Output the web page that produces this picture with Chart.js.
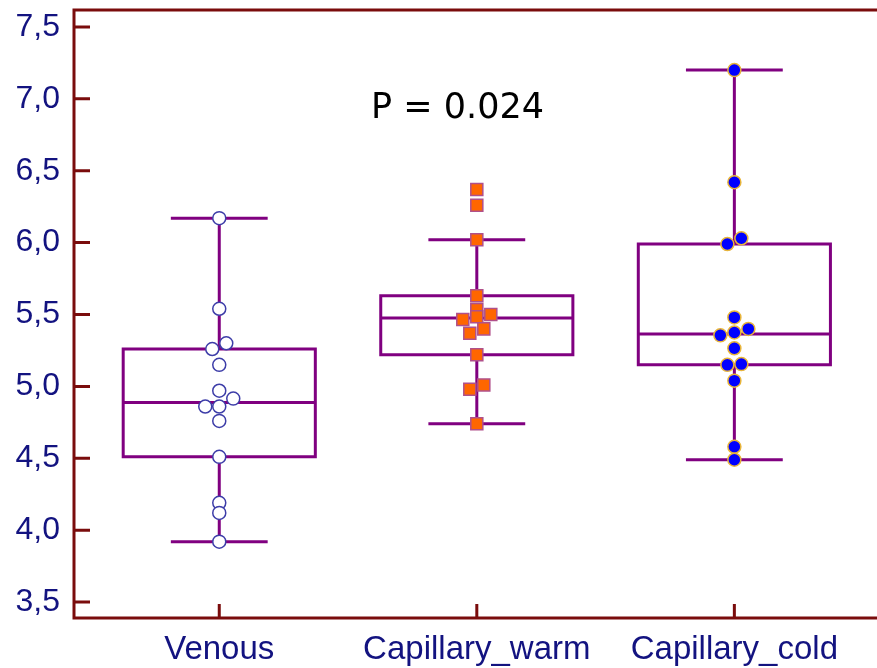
<!DOCTYPE html>
<html>
<head>
<meta charset="utf-8">
<script src="https://cdn.jsdelivr.net/npm/chart.js@4.4.1/dist/chart.umd.min.js"></script>
<style>
  html, body { margin: 0; padding: 0; background: #ffffff; overflow: hidden; }
  canvas { display: block; }
</style>
</head>
<body>
<canvas id="grafico-box" width="877" height="668"></canvas>
<script>
const categorias = ['Venous', 'Capillary_warm', 'Capillary_cold'];
const yTicks = [3.5, 4.0, 4.5, 5.0, 5.5, 6.0, 6.5, 7.0, 7.5];

const venous = [6.17, 5.54, 5.30, 5.26, 5.15, 4.97, 4.915, 4.86, 4.86, 4.76, 4.51, 4.19, 4.12, 3.92];
const capillaryWarm = [6.37, 6.26, 6.02, 5.63, 5.535, 5.50, 5.485, 5.465, 5.40, 5.37, 5.22, 5.01, 4.98, 4.74];
const capillaryCold = [7.20, 6.42, 6.03, 5.99, 5.48, 5.40, 5.375, 5.355, 5.265, 5.155, 5.15, 5.04, 4.58, 4.49];

const pTexto = 'P = 0.024';

const corEixo = '#7a0c0c';
const corTexto = '#131380';
const corBox = '#800080';

// Tukey hinges, whiskers to the furthest values inside 1.5 IQR
function mediana(arr) {
    const n = arr.length;
    return n % 2 ? arr[(n - 1) / 2] : (arr[n / 2 - 1] + arr[n / 2]) / 2;
}

function estatisticas(valores) {
    const s = [...valores].sort((a, b) => a - b);
    const n = s.length;
    const metade = Math.ceil(n / 2);
    const q1 = mediana(s.slice(0, metade));
    const q3 = mediana(s.slice(n - metade));
    const iqr = q3 - q1;
    const dentro = s.filter(v => v >= q1 - 1.5 * iqr && v <= q3 + 1.5 * iqr);
    return { min: dentro[0], q1: q1, med: mediana(s), q3: q3, max: dentro[dentro.length - 1] };
}

const grupos = [venous, capillaryWarm, capillaryCold];
const stats = grupos.map(estatisticas);

// points with nearly equal values are spread in a centred row
function posicoesX(valores, centro, chart) {
    const y = chart.scales.y;
    const x = chart.scales.x;
    const pxPorUnidade = x.getPixelForValue(1) - x.getPixelForValue(0);
    const passo = 14 / pxPorUnidade;
    const ordem = valores.map((v, i) => i).sort((a, b) => valores[a] - valores[b]);
    const xs = new Array(valores.length);
    let grupo = [];
    const fecha = () => {
        grupo.forEach((i, k) => { xs[i] = centro + (k - (grupo.length - 1) / 2) * passo; });
        grupo = [];
    };
    ordem.forEach(i => {
        if (grupo.length && Math.abs(y.getPixelForValue(valores[i]) - y.getPixelForValue(valores[grupo[0]])) >= 9) {
            fecha();
        }
        grupo.push(i);
    });
    fecha();
    return xs;
}

const desenhoBox = {
    id: 'desenhoBox',
    beforeDatasetsDraw(chart) {
        const { ctx, scales: { x, y } } = chart;
        const meiaLarg = 0.373;
        const meiaCap = 0.188;
        ctx.save();
        ctx.strokeStyle = corBox;
        ctx.lineWidth = 3;
        ctx.lineCap = 'butt';
        stats.forEach((s, i) => {
            const c = i + 1;
            const xl = x.getPixelForValue(c - meiaLarg);
            const xr = x.getPixelForValue(c + meiaLarg);
            const xc = x.getPixelForValue(c);
            const cl = x.getPixelForValue(c - meiaCap);
            const cr = x.getPixelForValue(c + meiaCap);
            const yq1 = y.getPixelForValue(s.q1);
            const yq3 = y.getPixelForValue(s.q3);
            const ymed = y.getPixelForValue(s.med);
            const ymin = y.getPixelForValue(s.min);
            const ymax = y.getPixelForValue(s.max);
            ctx.beginPath();
            ctx.rect(xl, yq3, xr - xl, yq1 - yq3);
            ctx.moveTo(xl, ymed); ctx.lineTo(xr, ymed);
            ctx.moveTo(xc, yq3); ctx.lineTo(xc, ymax);
            ctx.moveTo(xc, yq1); ctx.lineTo(xc, ymin);
            ctx.moveTo(cl, ymax); ctx.lineTo(cr, ymax);
            ctx.moveTo(cl, ymin); ctx.lineTo(cr, ymin);
            ctx.stroke();
        });
        ctx.restore();
    },
    afterDraw(chart) {
        const { ctx, chartArea: a, scales: { x, y } } = chart;
        ctx.save();
        ctx.strokeStyle = corEixo;
        ctx.lineWidth = 3;
        ctx.beginPath();
        ctx.moveTo(chart.width, a.top); ctx.lineTo(a.left, a.top);
        ctx.lineTo(a.left, a.bottom); ctx.lineTo(chart.width, a.bottom);
        yTicks.forEach(v => {
            const py = y.getPixelForValue(v);
            ctx.moveTo(a.left, py); ctx.lineTo(a.left + 16, py);
        });
        categorias.forEach((c, i) => {
            const px = x.getPixelForValue(i + 1);
            ctx.moveTo(px, a.bottom); ctx.lineTo(px, a.bottom - 14);
        });
        ctx.stroke();

        ctx.fillStyle = '#000000';
        ctx.font = '35px "DejaVu Sans"';
        ctx.textAlign = 'center';
        ctx.textBaseline = 'middle';
        ctx.fillText(pTexto, x.getPixelForValue(1.925), y.getPixelForValue(6.93));
        ctx.restore();
    }
};

const ctx = document.getElementById('grafico-box');

const graficoBox = new Chart(ctx, {
    type: 'scatter',
    data: {
        datasets: [
            {
                label: categorias[0],
                data: venous.map(v => ({ x: 1, y: v })),
                pointStyle: 'circle',
                pointRadius: 6.5,
                pointBackgroundColor: '#ffffff',
                pointBorderColor: '#3d3da8',
                pointBorderWidth: 1.5
            },
            {
                label: categorias[1],
                data: capillaryWarm.map(v => ({ x: 2, y: v })),
                pointStyle: 'rect',
                pointRadius: 8.5,
                pointBackgroundColor: '#ff6600',
                pointBorderColor: '#b0508a',
                pointBorderWidth: 1.5
            },
            {
                label: categorias[2],
                data: capillaryCold.map(v => ({ x: 3, y: v })),
                pointStyle: 'circle',
                pointRadius: 6.5,
                pointBackgroundColor: '#0000ff',
                pointBorderColor: '#e8b53a',
                pointBorderWidth: 1.5
            }
        ]
    },
    options: {
        responsive: false,
        maintainAspectRatio: false,
        animation: false,
        devicePixelRatio: 1,
        layout: { padding: { top: 8, right: 0, left: 0, bottom: 0 } },
        plugins: {
            legend: { display: false },
            tooltip: { enabled: false }
        },
        scales: {
            x: {
                type: 'linear',
                min: 0.436,
                max: 3.515,
                afterBuildTicks: s => { s.ticks = categorias.map((c, i) => ({ value: i + 1 })); },
                afterFit: s => {
                    s.height = 50;
                    s.paddingLeft = 0;
                    s.paddingRight = 0;
                    s.paddingTop = 0;
                    s.paddingBottom = 0;
                },
                grid: { display: false, drawTicks: false },
                border: { display: false },
                ticks: {
                    padding: 12,
                    color: corTexto,
                    font: { family: '"Liberation Sans", Arial', size: 33 },
                    callback: v => categorias[v - 1]
                }
            },
            y: {
                type: 'linear',
                min: 3.389,
                max: 7.618,
                afterBuildTicks: s => { s.ticks = yTicks.map(v => ({ value: v })); },
                afterFit: s => {
                    s.width = 74;
                    s.paddingLeft = 0;
                    s.paddingRight = 0;
                    s.paddingTop = 0;
                    s.paddingBottom = 0;
                },
                grid: { display: false, drawTicks: false },
                border: { display: false },
                ticks: {
                    padding: 14,
                    color: corTexto,
                    font: { family: '"Liberation Sans", Arial', size: 32 },
                    callback: v => v.toFixed(1).replace('.', ',')
                }
            }
        }
    },
    plugins: [desenhoBox]
});

// spread the dots once the scales are known
grupos.forEach((valores, i) => {
    const xs = posicoesX(valores, i + 1, graficoBox);
    graficoBox.data.datasets[i].data = valores.map((v, k) => ({ x: xs[k], y: v }));
});
graficoBox.update('none');
</script>
</body>
</html>
